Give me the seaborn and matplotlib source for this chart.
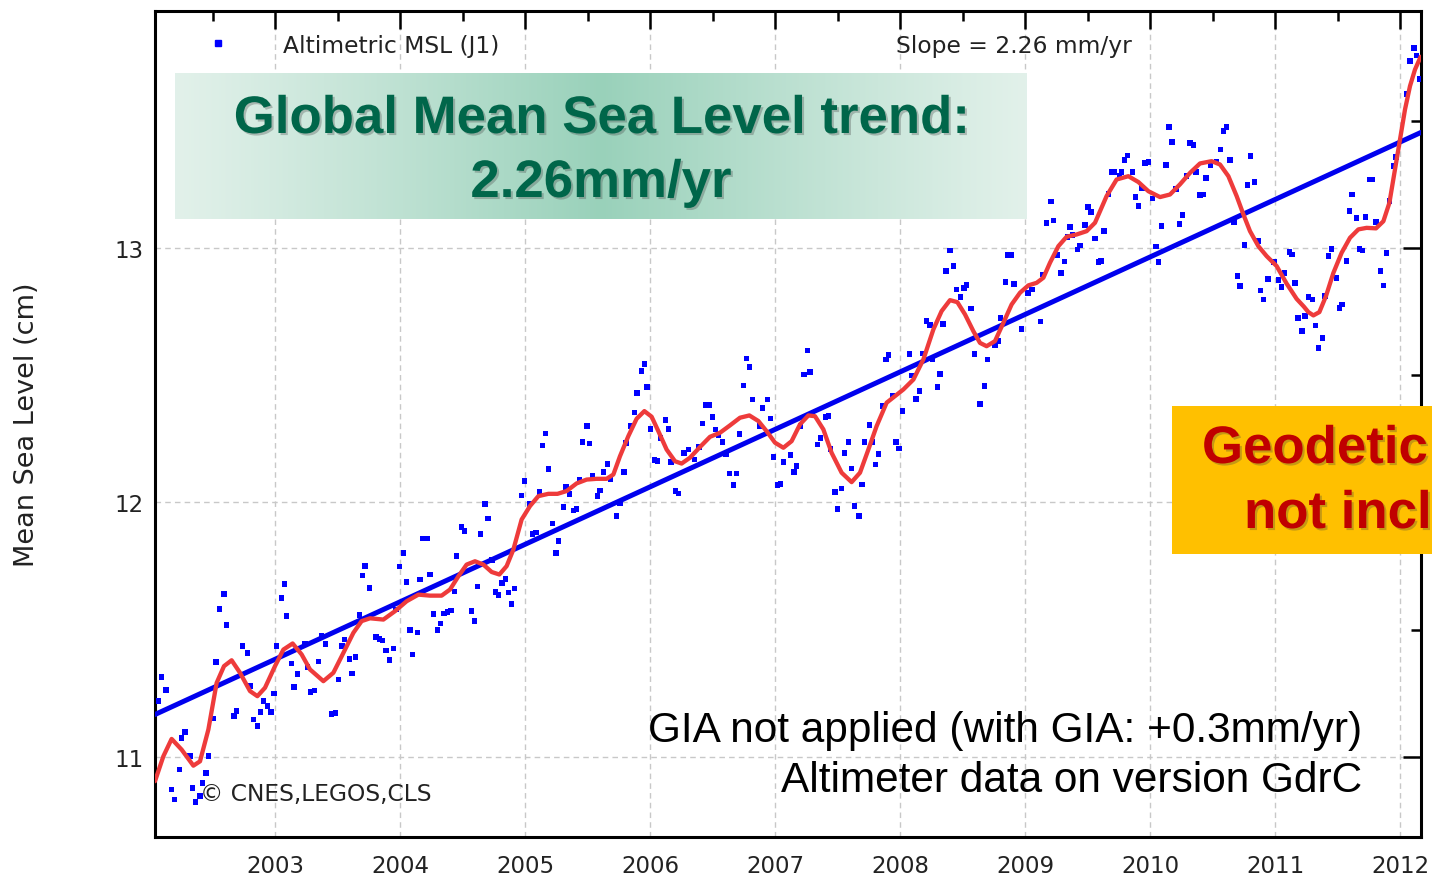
import numpy as np
import matplotlib
matplotlib.use("Agg")
import matplotlib.pyplot as plt
import matplotlib.patheffects as pe
from matplotlib.lines import Line2D
from matplotlib.patches import Rectangle
from matplotlib.ticker import MultipleLocator, FixedLocator
import seaborn as sns

# ---------------- data ----------------
msl_years = [
    2002.067, 2002.093, 2002.128, 2002.173, 2002.195, 2002.235, 2002.253, 2002.280, 2002.320, 2002.341,
    2002.365, 2002.400, 2002.421, 2002.448, 2002.469, 2002.507, 2002.528, 2002.555, 2002.592, 2002.613,
    2002.672, 2002.693, 2002.741, 2002.779, 2002.800, 2002.827, 2002.859, 2002.885, 2002.907, 2002.939,
    2002.968, 2002.992, 2003.013, 2003.053, 2003.075, 2003.093, 2003.133, 2003.152, 2003.179, 2003.240,
    2003.259, 2003.285, 2003.317, 2003.347, 2003.371, 2003.403, 2003.453, 2003.485, 2003.509, 2003.536,
    2003.555, 2003.595, 2003.616, 2003.643, 2003.675, 2003.699, 2003.720, 2003.755,
    2003.808, 2003.835, 2003.861, 2003.888, 2003.915, 2003.947, 2003.968, 2003.995, 2004.027, 2004.053,
    2004.080, 2004.101, 2004.139, 2004.160, 2004.181, 2004.221, 2004.240, 2004.267, 2004.301, 2004.325,
    2004.352, 2004.379, 2004.408, 2004.435, 2004.453, 2004.491, 2004.515, 2004.573, 2004.595, 2004.619,
    2004.645, 2004.680, 2004.704, 2004.736, 2004.763, 2004.789, 2004.816, 2004.845, 2004.869, 2004.893,
    2004.915, 2004.973, 2004.995, 2005.035, 2005.061, 2005.088, 2005.115, 2005.139, 2005.165, 2005.189,
    2005.221, 2005.248, 2005.267,
    2005.307, 2005.328, 2005.355, 2005.387, 2005.413, 2005.435, 2005.461, 2005.496, 2005.515, 2005.541,
    2005.579, 2005.600, 2005.627, 2005.659, 2005.685, 2005.731, 2005.760, 2005.792, 2005.808, 2005.845,
    2005.875, 2005.896, 2005.931, 2005.955, 2005.976, 2006.003, 2006.035, 2006.061, 2006.083, 2006.123,
    2006.147, 2006.168, 2006.205, 2006.229, 2006.272, 2006.309, 2006.357, 2006.392,
    2006.421, 2006.443, 2006.475, 2006.501, 2006.525, 2006.549, 2006.581, 2006.608, 2006.635, 2006.667,
    2006.691, 2006.715, 2006.747, 2006.773, 2006.795, 2006.821, 2006.877, 2006.901, 2006.939, 2006.963,
    2006.987, 2007.019, 2007.045, 2007.067, 2007.125, 2007.152, 2007.173, 2007.205, 2007.232, 2007.259,
    2007.280, 2007.339, 2007.365, 2007.403, 2007.427, 2007.445, 2007.480, 2007.501, 2007.531, 2007.555,
    2007.589, 2007.613, 2007.635, 2007.672, 2007.696, 2007.717, 2007.755, 2007.779, 2007.805, 2007.829,
    2007.861, 2007.888, 2007.909, 2007.941, 2007.968, 2007.992, 2008.021, 2008.075, 2008.096, 2008.128,
    2008.155, 2008.181, 2008.213, 2008.240, 2008.261, 2008.299, 2008.320, 2008.344, 2008.368, 2008.400,
    2008.427, 2008.453, 2008.485, 2008.512, 2008.533, 2008.568, 2008.595, 2008.640, 2008.675, 2008.699,
    2008.760, 2008.787, 2008.805, 2008.843, 2008.864, 2008.891, 2008.912, 2008.971, 2009.024, 2009.056,
    2009.125, 2009.141, 2009.173, 2009.208, 2009.229, 2009.259, 2009.288, 2009.315, 2009.339, 2009.360,
    2009.381, 2009.421,
    2009.440, 2009.480, 2009.504, 2009.528, 2009.560, 2009.587, 2009.608, 2009.632, 2009.667, 2009.693,
    2009.715, 2009.755, 2009.773, 2009.795, 2009.821, 2009.859, 2009.883, 2009.907, 2009.936, 2009.960,
    2009.987, 2010.021, 2010.048, 2010.069, 2010.093, 2010.128, 2010.152, 2010.176, 2010.208, 2010.235,
    2010.259, 2010.293, 2010.320, 2010.347, 2010.368, 2010.400, 2010.427, 2010.448, 2010.485, 2010.533,
    2010.565, 2010.587, 2010.613, 2010.640, 2010.672, 2010.699, 2010.720, 2010.755, 2010.779, 2010.805,
    2010.837, 2010.867, 2010.885, 2010.907, 2010.944,
    2010.992, 2011.027, 2011.053, 2011.077, 2011.115, 2011.136, 2011.160, 2011.184, 2011.216, 2011.240,
    2011.267, 2011.299, 2011.325, 2011.349, 2011.381, 2011.400, 2011.429, 2011.451, 2011.493, 2011.515,
    2011.536, 2011.573, 2011.595, 2011.616, 2011.653, 2011.675, 2011.701, 2011.725, 2011.755, 2011.781,
    2011.808, 2011.845, 2011.867, 2011.893, 2011.915, 2011.947, 2011.968, 2012.053, 2012.080, 2012.112,
    2012.133, 2012.160,
]
msl_cm = [
    11.219, 11.315, 11.263, 10.872, 10.833, 10.951, 11.075, 11.099, 11.003, 10.879,
    10.824, 10.846, 10.898, 10.938, 11.003, 11.151, 11.373, 11.582, 11.641, 11.519,
    11.160, 11.181, 11.435, 11.409, 11.278, 11.147, 11.121, 11.176, 11.219, 11.200,
    11.176, 11.250, 11.435, 11.625, 11.679, 11.553, 11.367, 11.276, 11.327, 11.446,
    11.354, 11.255, 11.261, 11.375, 11.475, 11.443, 11.168, 11.174, 11.304, 11.435,
    11.462, 11.386, 11.328, 11.394, 11.559, 11.713, 11.750, 11.665,
    11.471, 11.464, 11.458, 11.418, 11.380, 11.426, 11.579, 11.748, 11.801, 11.687,
    11.500, 11.403, 11.489, 11.697, 11.858, 11.858, 11.717, 11.562, 11.498, 11.524,
    11.564, 11.570, 11.576, 11.650, 11.790, 11.904, 11.889, 11.573, 11.534, 11.670,
    11.877, 11.995, 11.937, 11.773, 11.648, 11.636, 11.684, 11.700, 11.646, 11.600,
    11.662, 12.027, 12.085, 11.995, 11.877, 11.882, 12.041, 12.224, 12.271, 12.132,
    11.917, 11.801, 11.848,
    11.982, 12.062, 12.034, 11.969, 11.975, 12.090, 12.238, 12.301, 12.232, 12.106,
    12.025, 12.047, 12.121, 12.151, 12.090, 11.946, 11.999, 12.121, 12.234, 12.300,
    12.354, 12.431, 12.517, 12.544, 12.453, 12.290, 12.166, 12.162, 12.253, 12.324,
    12.288, 12.160, 12.045, 12.035, 12.193, 12.208, 12.169, 12.219,
    12.310, 12.382, 12.382, 12.337, 12.287, 12.263, 12.237, 12.191, 12.114, 12.068,
    12.114, 12.270, 12.460, 12.566, 12.533, 12.405, 12.300, 12.372, 12.405, 12.330,
    12.178, 12.068, 12.073, 12.160, 12.186, 12.119, 12.143, 12.300, 12.503, 12.597,
    12.514, 12.228, 12.252, 12.337, 12.339, 12.211, 12.041, 11.973, 12.055, 12.195,
    12.238, 12.134, 11.986, 11.946, 12.071, 12.238, 12.305, 12.237, 12.149, 12.191,
    12.379, 12.562, 12.579, 12.418, 12.238, 12.212, 12.359, 12.584, 12.499, 12.407,
    12.439, 12.585, 12.713, 12.696, 12.562, 12.453, 12.506, 12.702, 12.909, 12.990,
    12.929, 12.837, 12.807, 12.844, 12.854, 12.762, 12.584, 12.386, 12.457, 12.562,
    12.620, 12.635, 12.724, 12.866, 12.973, 12.972, 12.858, 12.682, 12.824, 12.837,
    12.711, 12.896, 13.099, 13.183, 13.108, 12.971, 12.902, 12.947, 13.044, 13.083,
    13.050, 12.994,
    13.010, 13.090, 13.162, 13.141, 13.037, 12.944, 12.948, 13.067, 13.211, 13.299,
    13.299, 13.282, 13.298, 13.345, 13.363, 13.298, 13.201, 13.164, 13.235, 13.335,
    13.339, 13.194, 13.006, 12.944, 13.086, 13.327, 13.475, 13.416, 13.232, 13.095,
    13.129, 13.282, 13.411, 13.404, 13.298, 13.208, 13.210, 13.274, 13.325, 13.340,
    13.387, 13.460, 13.475, 13.346, 13.103, 12.890, 12.850, 13.012, 13.247, 13.361,
    13.260, 13.027, 12.833, 12.798, 12.879,
    12.944, 12.874, 12.846, 12.902, 12.984, 12.974, 12.863, 12.726, 12.673, 12.732,
    12.808, 12.798, 12.695, 12.608, 12.647, 12.811, 12.968, 12.997, 12.883, 12.765,
    12.778, 12.948, 13.145, 13.210, 13.118, 12.997, 12.990, 13.122, 13.269, 13.269,
    13.103, 12.909, 12.853, 12.981, 13.184, 13.321, 13.357, 13.606, 13.734, 13.786,
    13.756, 13.665,
]

smooth_years = [
    2002.040, 2002.107, 2002.173, 2002.253, 2002.347, 2002.400, 2002.467, 2002.533, 2002.592, 2002.653,
    2002.720, 2002.800, 2002.859, 2002.920, 2003.000, 2003.067, 2003.141, 2003.213, 2003.280, 2003.387,
    2003.467, 2003.547, 2003.627, 2003.693, 2003.760, 2003.867, 2003.960, 2004.053, 2004.147, 2004.240,
    2004.333, 2004.400, 2004.467, 2004.533, 2004.600, 2004.667, 2004.733, 2004.795, 2004.853, 2004.907,
    2004.973, 2005.040, 2005.107, 2005.187, 2005.260, 2005.333, 2005.413, 2005.493, 2005.573, 2005.653,
    2005.707, 2005.760, 2005.827, 2005.893, 2005.955, 2006.013, 2006.067, 2006.133, 2006.200, 2006.253,
    2006.320, 2006.400, 2006.480, 2006.560, 2006.640, 2006.720, 2006.795, 2006.867, 2006.933, 2007.000,
    2007.067, 2007.133, 2007.200, 2007.267, 2007.320, 2007.387, 2007.453, 2007.533, 2007.613, 2007.680,
    2007.747, 2007.813, 2007.893, 2007.960, 2008.027, 2008.107, 2008.187, 2008.267, 2008.333, 2008.400,
    2008.459, 2008.520, 2008.587, 2008.640, 2008.693, 2008.760, 2008.827, 2008.893, 2008.960, 2009.027,
    2009.093, 2009.147, 2009.200, 2009.267, 2009.333, 2009.413, 2009.493, 2009.560, 2009.653, 2009.733,
    2009.827, 2009.907, 2009.987, 2010.080, 2010.160, 2010.240, 2010.320, 2010.400, 2010.493, 2010.560,
    2010.627, 2010.693, 2010.747, 2010.800, 2010.867, 2010.933, 2011.013, 2011.093, 2011.173, 2011.230,
    2011.267, 2011.307, 2011.355, 2011.408, 2011.467, 2011.533, 2011.600, 2011.667, 2011.733, 2011.808,
    2011.867, 2011.915, 2011.960, 2012.000, 2012.040, 2012.080, 2012.120, 2012.165,
]
smooth_cm = [
    10.905, 11.003, 11.071, 11.029, 10.966, 10.983, 11.108, 11.291, 11.357, 11.380,
    11.331, 11.259, 11.239, 11.272, 11.357, 11.422, 11.446, 11.403, 11.344, 11.298,
    11.331, 11.409, 11.488, 11.534, 11.545, 11.540, 11.573, 11.612, 11.638, 11.634,
    11.634, 11.658, 11.710, 11.756, 11.769, 11.756, 11.727, 11.717, 11.750, 11.815,
    11.933, 11.986, 12.025, 12.034, 12.034, 12.045, 12.075, 12.090, 12.093, 12.093,
    12.110, 12.182, 12.261, 12.329, 12.359, 12.337, 12.280, 12.208, 12.162, 12.153,
    12.176, 12.218, 12.258, 12.274, 12.303, 12.333, 12.342, 12.320, 12.280, 12.235,
    12.215, 12.241, 12.307, 12.342, 12.339, 12.287, 12.195, 12.117, 12.080, 12.117,
    12.208, 12.300, 12.392, 12.418, 12.444, 12.483, 12.562, 12.680, 12.752, 12.795,
    12.787, 12.739, 12.673, 12.627, 12.614, 12.634, 12.706, 12.778, 12.824, 12.853,
    12.863, 12.883, 12.942, 13.007, 13.044, 13.053, 13.066, 13.099, 13.204, 13.269,
    13.282, 13.259, 13.223, 13.200, 13.210, 13.250, 13.295, 13.332, 13.341, 13.328,
    13.282, 13.204, 13.132, 13.066, 13.007, 12.968, 12.929, 12.860, 12.800, 12.770,
    12.748, 12.735, 12.748, 12.811, 12.902, 12.981, 13.040, 13.073, 13.079, 13.077,
    13.105, 13.177, 13.308, 13.426, 13.544, 13.636, 13.701, 13.751,
]

trend_years = [2002.04, 2012.168]
trend_cm = [11.167, 13.454]

year_ticks = [2003, 2004, 2005, 2006, 2007, 2008, 2009, 2010, 2011, 2012]
cm_ticks = [11, 12, 13]

# ---------------- figure ----------------
sns.set_theme(style="white")
plt.rcParams['font.family'] = ['DejaVu Sans']

W, H = 1432, 879
fig = plt.figure(figsize=(W / 100, H / 100), dpi=100)
fig.patch.set_facecolor('white')
ax = fig.add_axes([155 / W, 1 - 838 / H, 1266 / W, 826 / H])
ax.set_facecolor('white')

sns.scatterplot(x=msl_years, y=msl_cm, marker='s', s=17, color='#0000ff',
                edgecolor='none', linewidth=0, ax=ax, zorder=3)
sns.lineplot(x=trend_years, y=trend_cm, color='#0000ee', linewidth=3.6,
             ax=ax, zorder=4, estimator=None, sort=False)
sns.lineplot(x=smooth_years, y=smooth_cm, color='#ee3b3b', linewidth=3.1,
             ax=ax, zorder=5, estimator=None, sort=False)
for ln in ax.get_lines():
    ln.set_solid_joinstyle('round')
    ln.set_solid_capstyle('round')

ax.set_xlim(2002.04, 2012.168)
ax.set_ylim(10.6857, 13.931)
ax.xaxis.set_major_locator(FixedLocator(year_ticks))
ax.set_xticklabels([str(y) for y in year_ticks])
ax.yaxis.set_major_locator(FixedLocator(cm_ticks))
ax.set_yticklabels([str(c) for c in cm_ticks])
ax.xaxis.set_minor_locator(MultipleLocator(0.5))
ax.yaxis.set_minor_locator(MultipleLocator(0.5))

ax.grid(True, which='major', linestyle=(0, (4, 3)), color='#c8c8c8', linewidth=1.0, zorder=0)
ax.set_axisbelow(True)
ax.tick_params(which='both', direction='in', top=True, right=True, color='black')
ax.tick_params(which='major', length=13, width=1.8, labelsize=16.5, labelcolor='#222222')
ax.tick_params(which='minor', length=7, width=1.8)
ax.tick_params(axis='x', which='major', pad=12)
ax.tick_params(axis='y', which='major', pad=8)
for sp in ax.spines.values():
    sp.set_color('black')
    sp.set_linewidth(2.2)

ax.set_xlabel('')
ax.set_ylabel('')
fig.text(27 / W, 1 - 425 / H, 'Mean Sea Level (cm)', rotation=90, ha='center', va='center',
         fontsize=19.5, color='#222222')

# legend entry + slope annotation
ax.legend(handles=[Line2D([], [], marker='s', linestyle='none', color='#0000ff', markersize=3.8)],
          labels=['Altimetric MSL (J1)'], loc='center left',
          bbox_to_anchor=((206.3 - 155) / 1266, (838 - 46) / 826), frameon=False,
          fontsize=16.8, handlelength=1.0, handletextpad=2.29, borderaxespad=0, borderpad=0,
          labelcolor='#222222')
ax.text((896 - 155) / 1266, (838 - 46) / 826, 'Slope = 2.26 mm/yr', transform=ax.transAxes,
        ha='left', va='center', fontsize=16.8, color='#222222')
ax.text((200 - 155) / 1266, (838 - 795) / 826, '© CNES,LEGOS,CLS', transform=ax.transAxes,
        ha='left', va='center', fontsize=16.8, color='#222222', zorder=6)

# title banner with horizontal gradient
bax = fig.add_axes([175 / W, 1 - 220 / H, 852 / W, 146 / H])
bax.axis('off')
t = np.linspace(0, 1, 600)
wgt = np.clip(1 - np.abs(t - 0.5) * 2, 0, 1) ** 1.1
light = np.array([0.886, 0.945, 0.918])
dark = np.array([0.600, 0.820, 0.730])
grad = light[None, :] * (1 - wgt[:, None]) + dark[None, :] * wgt[:, None]
bax.imshow(grad[None, :, :], aspect='auto', extent=[0, 1, 0, 1], interpolation='bilinear')
bax.set_xlim(0, 1)
bax.set_ylim(0, 1)

shadow = [pe.withSimplePatchShadow(offset=(1.5, -1.5), shadow_rgbFace='#404040', alpha=0.3)]
bold_family = ['Liberation Sans', 'DejaVu Sans']
fig.text(601 / W, 1 - 120 / H, 'Global Mean Sea Level trend:', ha='center', va='center',
         fontsize=38, fontweight='bold', family=bold_family,
         color='#00664a', path_effects=shadow, zorder=10)
fig.text(601 / W, 1 - 184 / H, '2.26mm/yr', ha='center', va='center',
         fontsize=38, fontweight='bold', family=bold_family,
         color='#00664a', path_effects=shadow, zorder=10)

# orange note box (runs to the right edge like the reference)
fig.add_artist(Rectangle((1172 / W, 1 - 555 / H), 260 / W, 148 / H, transform=fig.transFigure,
                         facecolor='#ffc000', edgecolor='none', zorder=8))
fig.text(1202 / W, 1 - 450 / H, 'Geodetic', ha='left', va='center', fontsize=38,
         fontweight='bold', family=bold_family, color='#c00000',
         path_effects=shadow, zorder=10)
fig.text(1244 / W, 1 - 515 / H, 'not incl', ha='left', va='center', fontsize=38,
         fontweight='bold', family=bold_family, color='#c00000',
         path_effects=shadow, zorder=10)

# bottom-right notes
fig.text(1362 / W, 1 - 731 / H, 'GIA not applied (with GIA: +0.3mm/yr)', ha='right', va='center',
         fontsize=30.5, family=['Liberation Sans', 'DejaVu Sans'], color='black', zorder=10)
fig.text(1362 / W, 1 - 781 / H, 'Altimeter data on version GdrC', ha='right', va='center',
         fontsize=30.5, family=['Liberation Sans', 'DejaVu Sans'], color='black', zorder=10)

fig.savefig('out.png', dpi=100)
